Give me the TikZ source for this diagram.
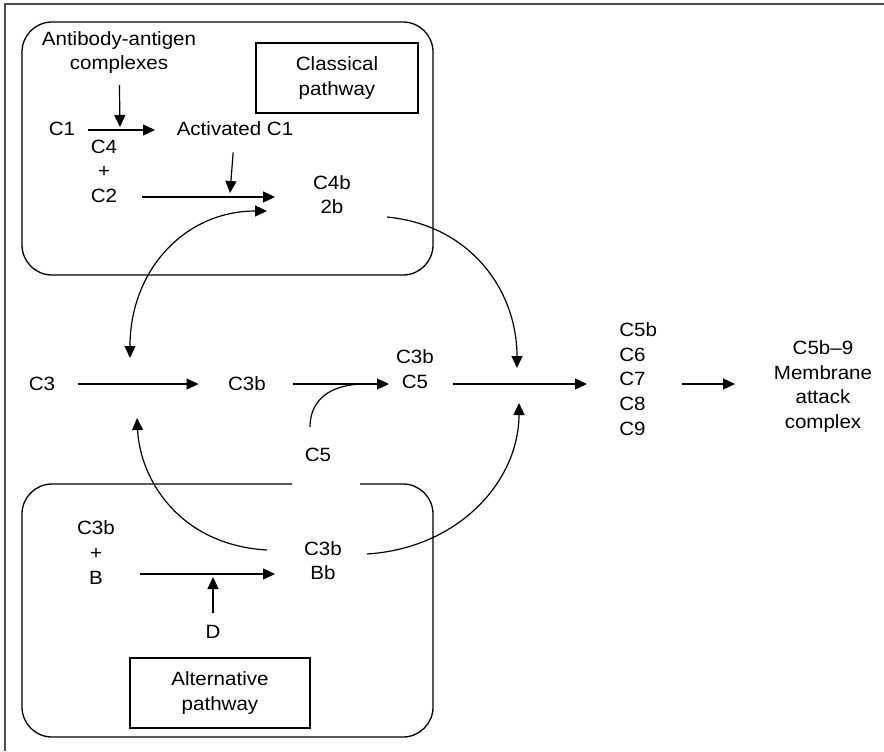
\documentclass[tikz,border=0pt]{standalone}
\usepackage{fontspec}
\setmainfont[FakeStretch=1.07]{Liberation Sans}
\usetikzlibrary{arrows.meta}

\tikzset{
  >={Triangle[length=6pt,width=5.5pt]},
  lbl/.style={font=\fontsize{9.6}{12.3}\selectfont, inner sep=0pt, align=center},
  arr/.style={->, line width=0.6pt},
  wire/.style={line width=0.6pt},
  pathbox/.style={draw, line width=0.65pt, rounded corners=15pt},
  namebox/.style={lbl, draw, line width=0.65pt, minimum width=#1, minimum height=35pt},
}

\begin{document}
\begin{tikzpicture}[x=0.5pt, y=-0.5pt]
    \useasboundingbox (0,0) rectangle (884,751);
    \draw[line width=1pt, gray!60!black] (5,751) -- (5,4) -- (884,4);

    % classical pathway
    \draw[pathbox] (22,22) rectangle (433,275);
    \node[namebox=81pt] (cname) at (337,78) {Classical\\pathway};
    \node[lbl] (abc) at (119,52.5) {Antibody-antigen\\complexes};
    \node[lbl] (c1) at (62,129) {C1};
    \node[lbl] (act) at (235,129) {Activated C1};
    \node[lbl] (c4c2) at (104,171) {C4\\+\\C2};
    \node[lbl] (c4b) at (332,194.5) {C4b\\2b};

    % main line
    \node[lbl] (c3) at (42,384) {C3};
    \node[lbl] (c3b) at (247,384) {C3b};
    \node[lbl] (c3bc5) at (415,369) {C3b\\C5};
    \node[lbl] (c5) at (318,455) {C5};
    \node[lbl, align=left, anchor=west] (late) at (619,379) {C5b\\C6\\C7\\C8\\C9};
    \node[lbl] (mac) at (823,386.5) {C5b--9\\Membrane\\attack\\complex};

    % alternative pathway
    \draw[pathbox] (292,484) -- (22,484) -- (22,737) -- (433,737) -- (433,484) -- (360,484);
    \node[lbl] (c3bB) at (96,552.5) {C3b\\+\\B};
    \node[lbl] (c3bBb) at (323,560.5) {C3b\\Bb};
    \node[lbl] (d) at (213,632) {D};
    \node[namebox=90pt] (aname) at (220,693) {Alternative\\pathway};

    % free ends
    \coordinate (c1out) at (88,130);
    \coordinate (c1in) at (155,130);
    \coordinate (abcin) at (120,127);
    \coordinate (actin) at (230,193);
    \coordinate (c2out) at (142,197);
    \coordinate (c2in) at (275,197);
    \coordinate (c4bin) at (267,211);
    \coordinate (c3top) at (130,358);
    \coordinate (c3bot) at (137,418);
    \coordinate (jtop) at (517,368);
    \coordinate (jbot) at (519,403);
    \coordinate (bout) at (140,574);
    \coordinate (bin) at (275,574);
    \coordinate (din) at (213,577);

    \draw[arr] (c1out) -- (c1in);
    \draw[arr, shorten <=5.5pt] (abc) -- (abcin);
    \draw[arr, shorten <=8pt] (act) -- (actin);
    \draw[arr] (c2out) -- (c2in);
    \draw[<->, line width=0.6pt]
        (c3top) .. controls (130,270) and (185,211) .. (c4bin);
    \draw[arr] (387,217) .. controls (470,225) and (517,290) .. (jtop);

    \draw[arr, shorten <=11pt, shorten >=14.6pt] (c3) -- (c3b);
    \draw[arr, shorten <=13.6pt, shorten >=13pt] (c3b) -- (c3b -| c3bc5);
    \draw[wire] (310,427) .. controls (310,400) and (330,384) .. (365,384);
    \draw[arr] (453,384) -- (587,384);
    \draw[arr] (682,384) -- (735,384);

    \draw[arr] (bout) -- (bin);
    \draw[arr, shorten <=6pt] (d) -- (din);
    \draw[arr] (267,550) .. controls (180,545) and (140,480) .. (c3bot);
    \draw[arr] (367,554) .. controls (460,548) and (519,480) .. (jbot);
\end{tikzpicture}
\end{document}
